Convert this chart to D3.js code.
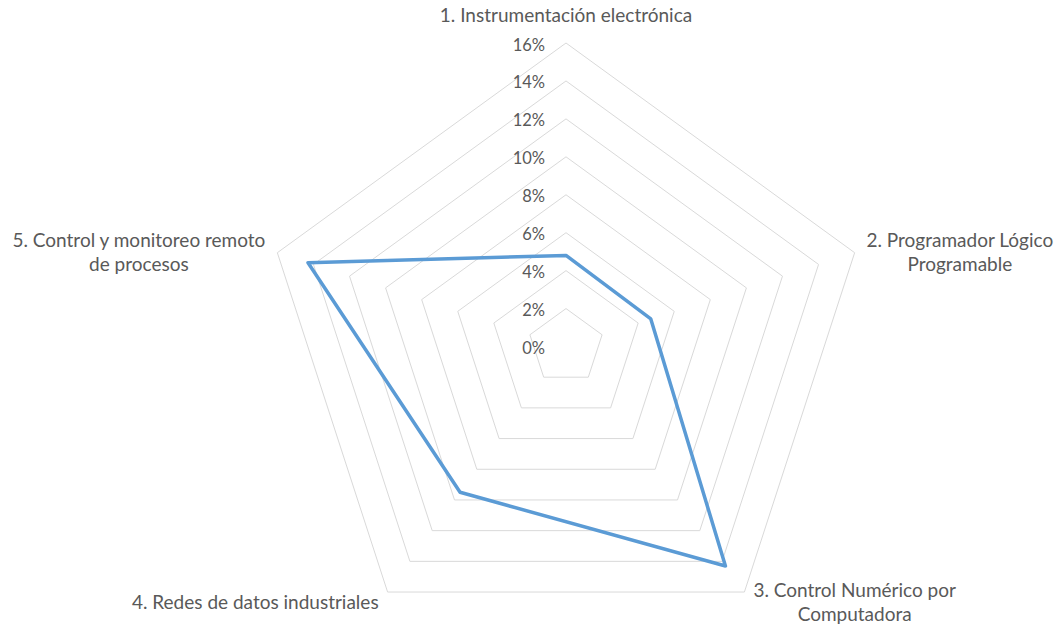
<!DOCTYPE html>
<html>
<head>
<meta charset="utf-8">
<script src="https://cdn.jsdelivr.net/npm/d3@7"></script>
<style>
  body { margin: 0; background: #fff; }
  text { font-family: Lato, "Open Sans", sans-serif; fill: #595959; }
</style>
</head>
<body>
<div id="grafico"></div>
<script>
var ejes = [
  ["1. Instrumentación electrónica"],
  ["2. Programador Lógico", "Programable"],
  ["3. Control Numérico por", "Computadora"],
  ["4. Redes de datos industriales"],
  ["5. Control y monitoreo remoto", "de procesos"]
];
var valores = [4.8, 4.7, 14.3, 9.5, 14.3];
var ticks = [0, 2, 4, 6, 8, 10, 12, 14, 16];
var tickLabels = ["0%", "2%", "4%", "6%", "8%", "10%", "12%", "14%", "16%"];

var svgWidth = 1059;
var svgHeight = 625;
var cx = 566, cy = 346.5, radio = 303.5;

var svg = d3.select("#grafico")
  .append("svg")
  .attr("width", svgWidth)
  .attr("height", svgHeight);

var chart = svg.append("g")
  .attr("transform", "translate(" + cx + "," + cy + ")");

var rScale = d3.scaleLinear()
  .domain([0, d3.max(ticks)])
  .range([0, radio]);

var angulo = d3.scaleLinear()
  .domain([0, ejes.length])
  .range([0, 2 * Math.PI]);

// anillos de la rejilla (el 0% es un punto, no se dibuja)
chart.selectAll(".anillo")
  .data(ticks.filter(d => d > 0))
  .enter()
  .append("path")
  .attr("class", "anillo")
  .attr("d", t => d3.lineRadial()
    .angle((d, i) => angulo(i))
    .radius(() => rScale(t))
    .curve(d3.curveLinearClosed)(ejes))
  .attr("fill", "none")
  .attr("stroke", "#d9d9d9")
  .attr("stroke-width", 1);

// serie
var linea = d3.lineRadial()
  .angle((d, i) => angulo(i))
  .radius(d => rScale(d))
  .curve(d3.curveLinearClosed);

chart.append("path")
  .datum(valores)
  .attr("d", linea)
  .attr("fill", "none")
  .attr("stroke", "#5b9bd5")
  .attr("stroke-width", 3.5)
  .attr("stroke-linejoin", "round");

// etiquetas de escala
chart.selectAll(".tick")
  .data(ticks)
  .enter()
  .append("text")
  .attr("class", "tick")
  .attr("x", -21)
  .attr("y", d => -rScale(d) + 7.5)
  .attr("text-anchor", "end")
  .style("font-size", "16.5px")
  .text((d, i) => tickLabels[i]);

// etiquetas de los ejes
ejes.forEach(function (lineas, i) {
  var a = angulo(i);
  var vx = Math.sin(a) * radio;
  var vy = -Math.cos(a) * radio;
  var t = chart.append("text")
    .attr("text-anchor", "middle")
    .style("font-size", "19px");
  var spans = lineas.map(function (l) {
    return t.append("tspan").text(l);
  });
  var w = d3.max(spans, s => s.node().getComputedTextLength());
  var lh = 24;
  var x, y0;
  if (Math.cos(a) > 0.9) {
    x = vx;
    y0 = vy - 21 - (lineas.length - 1) * lh;
  } else {
    var gap = Math.cos(a) > 0 ? 12 : 9;
    var mid = Math.cos(a) > 0 ? 6 : 17;
    x = Math.sin(a) > 0 ? vx + gap + w / 2 : vx - gap - w / 2;
    y0 = vy + mid - (lineas.length - 1) * lh / 2;
  }
  spans.forEach(function (s, j) {
    s.attr("x", x).attr("y", y0 + j * lh);
  });
});
</script>
</body>
</html>
